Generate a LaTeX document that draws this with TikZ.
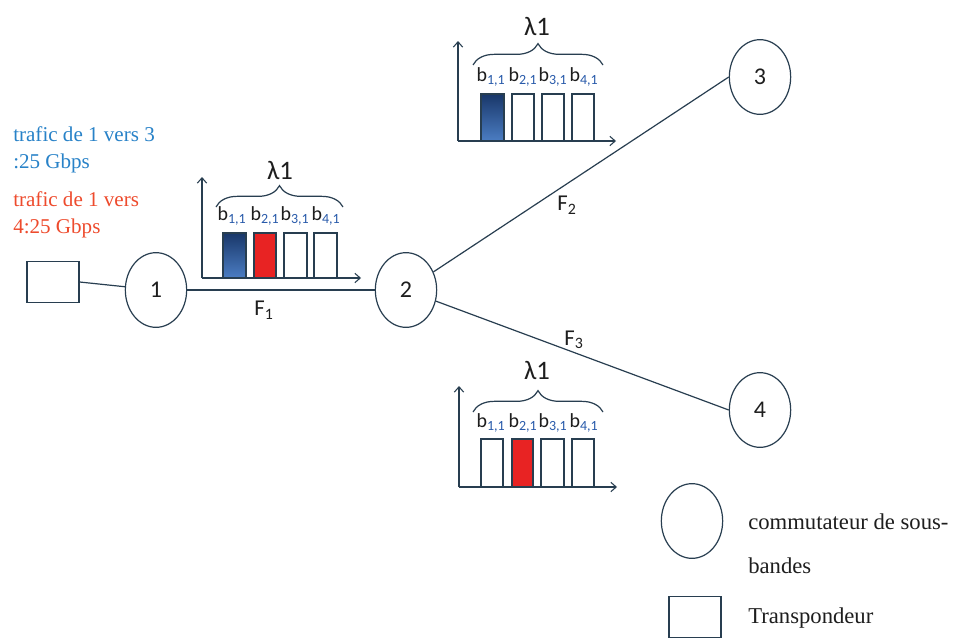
\documentclass[tikz,border=0pt]{standalone}
\usepackage{fontspec}
\setmainfont{Liberation Serif}
\newfontfamily\calib{Carlito}
\usetikzlibrary{shapes.geometric,decorations.pathreplacing,arrows.meta}
\definecolor{lin}{RGB}{40,62,80}
\definecolor{tblue}{RGB}{40,130,200}
\definecolor{tred}{RGB}{238,75,45}
\definecolor{bdark}{RGB}{25,55,105}
\definecolor{blight}{RGB}{75,125,195}
\definecolor{bred}{RGB}{232,35,35}
\definecolor{subblue}{RGB}{40,90,170}
\definecolor{txt}{RGB}{30,30,30}
\tikzset{
  sw/.style={ellipse,draw=lin,line width=0.9pt,minimum width=46pt,minimum height=56pt,inner sep=0pt,font=\calib\fontsize{18}{18}\selectfont,text=txt},
  tp/.style={draw=lin,line width=0.9pt,minimum width=39pt,minimum height=31pt,inner sep=0pt},
  link/.style={draw=lin,line width=0.9pt},
  ax/.style={draw=lin,line width=0.8pt,-{Straight Barb[length=4pt,width=7pt]}},
  bar/.style={draw=lin,line width=0.8pt,fill=white},
  bbar/.style={draw=lin,line width=0.8pt,top color=bdark,bottom color=blight},
  rbar/.style={draw=lin,line width=0.8pt,fill=bred},
  brc/.style={draw=lin,line width=0.9pt,decorate,decoration={brace,amplitude=16pt}},
  lam/.style={font=\calib\fontsize{20}{20}\selectfont,text=txt,inner sep=0pt},
  blab/.style={font=\calib\fontsize{15}{15}\selectfont,text=txt,inner sep=0pt},
  flab/.style={font=\calib\fontsize{17}{17}\selectfont,text=txt,inner sep=0pt},
  tr/.style={font=\fontsize{15.8}{18}\selectfont,anchor=west,inner sep=0pt},
  leg/.style={font=\fontsize{17}{19}\selectfont,text=txt,anchor=west,inner sep=0pt}
}
\newcommand{\bl}[1]{b\textsubscript{\color{subblue}#1}}
\begin{document}
\begin{tikzpicture}[x=0.75pt,y=-0.75pt]
\useasboundingbox[fill=white] (0,0) rectangle (958,639);
% nodes
\node[sw] (n1) at (156,290) {1};
\node[sw] (n2) at (406,290) {2};
\node[sw] (n3) at (760,77) {3};
\node[sw] (n4) at (760,410) {4};
\node[tp] (t1) at (53,282) {};
% links
\draw[link] (t1.east) -- (n1);
\draw[link] (n1.east) -- (n2.west);
\draw[link] (n2) -- (n3.west);
\draw[link] (n2) -- (n4.west);
\node[flab] (f1) at (264,310) {F\textsubscript{1}};
\node[flab] (f2) at (567,205) {F\textsubscript{2}};
\node[flab] (f3) at (574,340) {F\textsubscript{3}};
% chart 1 (middle)
\coordinate (o1) at (202,278);
\coordinate (y1) at (202,177);
\coordinate (x1) at (361,278);
\draw[ax] (o1) -- (y1);
\draw[ax] (o1) -- (x1);
\draw[bbar] (223,233) rectangle (246,278);
\draw[rbar] (254,233) rectangle (276,278);
\draw[bar] (284,233) rectangle (307,278);
\draw[bar] (314,233) rectangle (337,278);
\draw[brc] (216,207) -- (343,207);
\node[lam] (l1) at (280,170) {λ1};
\node[blab] (b11) at (232,216) {\bl{1,1}};
\node[blab] (b21) at (265,216) {\bl{2,1}};
\node[blab] (b31) at (295,216) {\bl{3,1}};
\node[blab] (b41) at (326,216) {\bl{4,1}};
% chart 2 (top)
\coordinate (o2) at (458,141);
\coordinate (y2) at (458,41);
\coordinate (x2) at (616,141);
\draw[ax] (o2) -- (y2);
\draw[ax] (o2) -- (x2);
\draw[bbar] (481,94) rectangle (504,141);
\draw[bar] (512,94) rectangle (534,141);
\draw[bar] (542,94) rectangle (564,141);
\draw[bar] (572,94) rectangle (594,141);
\draw[brc] (473,65) -- (603,65);
\node[lam] (l2) at (537,26) {λ1};
\node[blab] (c11) at (491,77) {\bl{1,1}};
\node[blab] (c21) at (523,77) {\bl{2,1}};
\node[blab] (c31) at (553,77) {\bl{3,1}};
\node[blab] (c41) at (584,77) {\bl{4,1}};
% chart 3 (bottom)
\coordinate (o3) at (459,487);
\coordinate (y3) at (459,386);
\coordinate (x3) at (617,487);
\draw[ax] (o3) -- (y3);
\draw[ax] (o3) -- (x3);
\draw[bar] (481,439) rectangle (503,487);
\draw[rbar] (512,439) rectangle (533,487);
\draw[bar] (541,439) rectangle (564,487);
\draw[bar] (572,439) rectangle (594,487);
\draw[brc] (473,412) -- (603,412);
\node[lam] (l3) at (537,370) {λ1};
\node[blab] (d11) at (491,423) {\bl{1,1}};
\node[blab] (d21) at (523,423) {\bl{2,1}};
\node[blab] (d31) at (553,423) {\bl{3,1}};
\node[blab] (d41) at (584,423) {\bl{4,1}};
% traffic text
\node[tr,text=tblue] (tx1) at (13,134) {trafic de 1 vers 3};
\node[tr,text=tblue] (tx2) at (13,163) {:25 Gbps};
\node[tr,text=tred] (tx3) at (13,199) {trafic de 1 vers};
\node[tr,text=tred] (tx4) at (13,228) {4:25 Gbps};
% legend
\node[sw] (lg1) at (692,521) {};
\node[leg] (lt1) at (748,522) {commutateur de sous-};
\node[leg] (lt2) at (748,566) {bandes};
\node[tp] (lg2) at (695,617) {};
\node[leg] (lt3) at (748,618) {Transpondeur};
\end{tikzpicture}
\end{document}
